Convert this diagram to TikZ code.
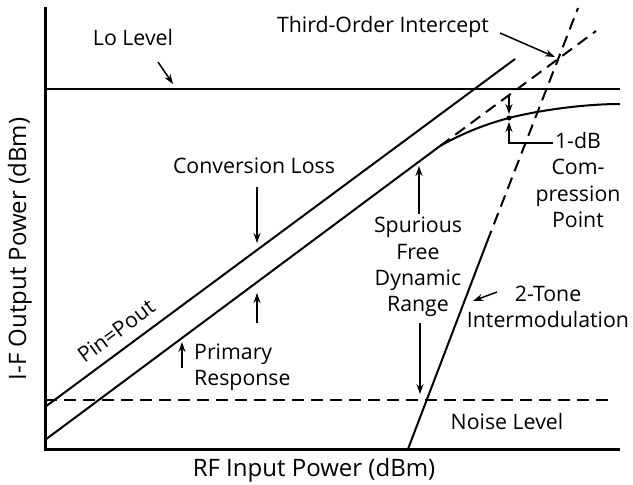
\documentclass[tikz,border=0pt]{standalone}
\usepackage{fontspec}
\setmainfont{Open Sans}
\usetikzlibrary{arrows.meta}
\begin{document}
\begin{tikzpicture}[x=1pt,y=-1pt,
  lbl/.style={font=\fontsize{21.3}{26.3}\selectfont, inner sep=0pt, align=center},
  axlbl/.style={font=\fontsize{24}{28}\selectfont, inner sep=0pt},
  axisline/.style={line width=3pt},
  curve/.style={line width=2pt},
  dashline/.style={line width=2pt, dash pattern=on 12pt off 7pt},
  arr/.style={line width=1.5pt, -{Stealth[length=10pt,width=7pt]}}]
\useasboundingbox (0,0) rectangle (633,485);
% coordinates
\coordinate (Ytop) at (45,7);
\coordinate (O) at (45,449);
\coordinate (Xend) at (620,449);
\coordinate (lo1) at (45,89);
\coordinate (lo2) at (620,89);
\coordinate (pp1) at (45,407);
\coordinate (pp2) at (515,59);
\coordinate (pr1) at (45,440);
\coordinate (pr2) at (440,146);
\coordinate (cp) at (509,118);
\coordinate (ce) at (620,104);
\coordinate (tx) at (596,31);
\coordinate (tt0) at (408,449);
\coordinate (tt1) at (487,242);
\coordinate (tt2) at (578,8);
\coordinate (n1) at (45,400);
\coordinate (n2) at (610,400);
% axes and lines
\draw[axisline] (Ytop) -- (O) -- (Xend);
\draw[line width=2.5pt] (lo1) -- (lo2);
\draw[curve] (pp1) -- (pp2);
\draw[curve] (pr1) -- (pr2) .. controls (463,133) and (486,124) .. (cp)
   .. controls (540,110) and (585,104) .. (ce);
\draw[dashline] (pr2) -- (tx);
\draw[curve] (tt0) -- (tt1);
\draw[dashline] (tt1) -- (tt2);
\draw[dashline] (n1) -- (n2);
\fill (cp) circle (2.5pt);
% arrows
\coordinate (aLo1) at (158,62); \coordinate (aLo2) at (173,84);
\draw[arr] (aLo1) -- (aLo2);
\coordinate (aT1) at (500,33); \coordinate (aT2) at (555,57);
\draw[arr] (aT1) -- (aT2);
\coordinate (aC1) at (257,187); \coordinate (aC2) at (257,243);
\draw[arr] (aC1) -- (aC2);
\coordinate (aC3) at (257,323); \coordinate (aC4) at (257,293);
\draw[arr] (aC3) -- (aC4);
\coordinate (aP1) at (182,368); \coordinate (aP2) at (182,342);
\draw[arr] (aP1) -- (aP2);
\coordinate (aS1) at (419,214); \coordinate (aS2) at (419,166);
\draw[arr] (aS1) -- (aS2);
\coordinate (aS3) at (420,323); \coordinate (aS4) at (420,394);
\draw[arr] (aS3) -- (aS4);
\coordinate (a21) at (497,292); \coordinate (a22) at (473,301);
\draw[arr] (a21) -- (a22);
\coordinate (aD1) at (509,96); \coordinate (aD2) at (509,114);
\draw[arr] (aD1) -- (aD2);
\coordinate (aD3) at (553,143); \coordinate (aD4) at (509,143); \coordinate (aD5) at (509,122);
\draw[arr] (aD3) -- (aD4) -- (aD5);
% labels
\node[lbl] (lolevel) at (133,38) {Lo Level};
\node[lbl] (toi) at (383,27) {Third-Order Intercept};
\node[lbl] (convloss) at (254,166) {Conversion Loss};
\node[lbl, rotate=36.5] (pinpout) at (116,331) {Pin=Pout};
\node[lbl, anchor=west, align=left] (primary) at (194,367) {Primary\\Response};
\node[lbl] (sfdr) at (418,267) {Spurious\\Free\\Dynamic\\Range};
\node[lbl] (twotone) at (548,307) {2-Tone\\Intermodulation};
\node[lbl] (onedb) at (578,180) {1-dB\\Com-\\pression\\Point};
\node[lbl] (noise) at (507,422) {Noise Level};
\node[axlbl] (xlabel) at (314,470) {RF Input Power (dBm)};
\node[axlbl, rotate=90] (ylabel) at (20,249) {I-F Output Power (dBm)};
\end{tikzpicture}
\end{document}
